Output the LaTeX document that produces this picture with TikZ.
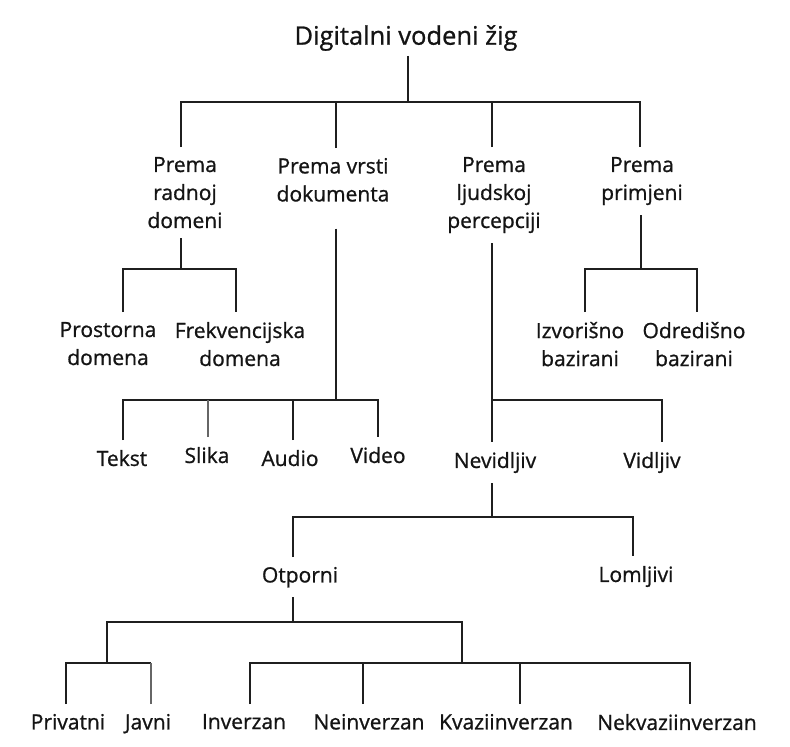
\documentclass[tikz,border=0pt]{standalone}
\usepackage{fontspec}
\setmainfont{Open Sans}[FakeBold=0.9]
\begin{document}
\begin{tikzpicture}[x=1pt,y=-1pt,
  edge/.style={line width=2.2pt, draw=black!88},
  thinedge/.style={line width=1.2pt, draw=black!60},
  lbl/.style={inner sep=0pt, outer ysep=10pt, outer xsep=0pt, anchor=north,
    align=center, text=black!92, font=\fontsize{21}{28}\selectfont},
]
\useasboundingbox[fill=white] (0,0) rectangle (790,747);

% ---- nodes ----
\node[lbl, anchor=center, font=\fontsize{25.5}{30}\selectfont, outer ysep=5pt] (root) at (406,38) {Digitalni vodeni žig};

\node[lbl] (radnoj) at (185,147) {Prema\\radnoj\\domeni};
\node[lbl] (vrsti)  at (333,148) {Prema vrsti\\dokumenta};
\node[lbl] (ljud)   at (494,147) {Prema\\ljudskoj\\percepciji};
\node[lbl] (prim)   at (642,147) {Prema\\primjeni};

\node[lbl] (pros) at (108,312) {Prostorna\\domena};
\node[lbl] (frek) at (240,312) {Frekvencijska\\domena};
\node[lbl] (izv)  at (580,312) {Izvorišno\\bazirani};
\node[lbl] (odr)  at (694,312) {Odredišno\\bazirani};

\node[lbl] (tekst) at (122,440) {Tekst};
\node[lbl] (slika) at (207,437) {Slika};
\node[lbl] (audio) at (290,440) {Audio};
\node[lbl] (video) at (378,437) {Video};

\node[lbl] (nevid) at (495,442) {Nevidljiv};
\node[lbl] (vid)   at (652,442) {Vidljiv};

\node[lbl] (otp) at (300,557) {Otporni};
\node[lbl] (lom) at (636,556) {Lomljivi};

\node[lbl] (priv) at (68,704)  {Privatni};
\node[lbl] (javni) at (148,704) {Javni};
\node[lbl] (inv)  at (244,704) {Inverzan};
\node[lbl] (neinv) at (369,704) {Neinverzan};
\node[lbl] (kvazi) at (506,704) {Kvaziinverzan};
\node[lbl] (nekv) at (677,704) {Nekvaziinverzan};

\coordinate (jL) at (107,663);
\coordinate (jR) at (462,663);

% ---- connectors ----
\draw[edge] (root.south -| 408,0) -- (408,102);
\draw[edge] (radnoj.north -| 181,0) |- (640,102) -- (prim.north -| 640,0);
\draw[edge] (vrsti.north -| 336,0) -- (336,102);
\draw[edge] (ljud.north -| 492,0) -- (492,102);

\draw[edge] (radnoj.south -| 181,0) -- (181,269);
\draw[edge] (pros.north -| 123,0) |- (236,269) -- (frek.north -| 236,0);

\draw[edge] (prim.south -| 641,0) -- (641,269);
\draw[edge] (izv.north -| 585,0) |- (697,269) -- (odr.north -| 697,0);

\draw[edge] (vrsti.south -| 336,0) ++(0,17) -- (336,400);
\draw[edge] (tekst.north -| 123,0) |- (378,400) -- (video.north -| 378,0);
\draw[thinedge] (slika.north -| 208,0) -- (208,400);
\draw[edge] (audio.north -| 293,0) -- (293,400);

\draw[edge] (ljud.south -| 492,0) -- (492,400) -| (vid.north -| 662,0);
\draw[edge] (492,400) -- (nevid.north -| 492,0);

\draw[edge] (nevid.south -| 492,0) -- (492,517);
\draw[edge] (otp.north -| 293,0) |- (633,517) -- (lom.north -| 633,0);

\draw[edge] (otp.south -| 293,0) -- (293,622);
\draw[edge] (jL) |- (462,622) -- (jR);

\draw[edge] (priv.north -| 66,0) |- (151,663);
\draw[thinedge] (javni.north -| 151,0) -- (151,663);
\draw[edge] (inv.north -| 250,0) |- (690,663) -- (nekv.north -| 690,0);
\draw[edge] (neinv.north -| 363,0) -- (363,663);
\draw[edge] (kvazi.north -| 520,0) -- (520,663);
\end{tikzpicture}
\end{document}
